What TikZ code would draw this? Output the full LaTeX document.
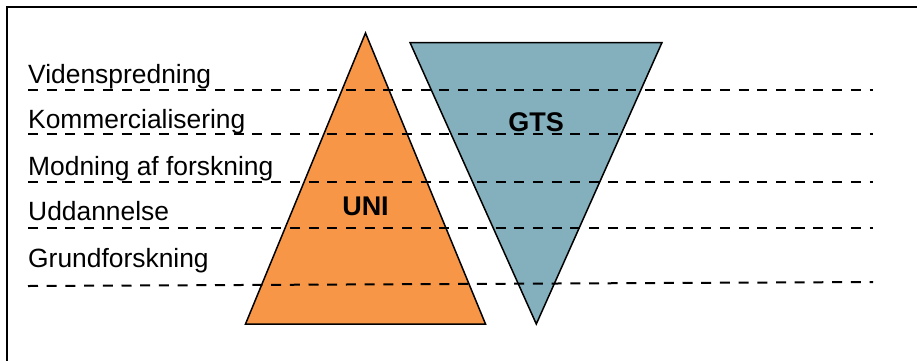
\documentclass[tikz,border=0pt]{standalone}
\usepackage{fontspec}
\setmainfont{Liberation Sans}
\definecolor{uniorange}{HTML}{F79646}
\definecolor{gtsblue}{HTML}{83B0BC}
\begin{document}
\begin{tikzpicture}[x=1pt,y=-1pt,
  level/.style={anchor=base west,inner sep=0pt,font=\fontsize{26.4}{30}\selectfont},
  tri/.style={draw=black,line width=1.5pt,line join=miter},
  tag/.style={inner sep=0pt,font=\fontsize{27}{30}\selectfont\bfseries},
  divider/.style={line width=2pt,dash pattern=on 10pt off 8.7pt}]
\useasboundingbox (0,0) rectangle (917,360);
% frame
\draw[line width=1.5pt] (7,380) -- (7,7) -- (940,7);
% triangles
\filldraw[tri,fill=uniorange] (245.5,324) -- (485.5,324) -- (365.5,33) -- cycle;
\filldraw[tri,fill=gtsblue] (410,42.5) -- (662,42.5) -- (536.3,324) -- cycle;
\node[tag] (uni) at (365.5,206) {UNI};
\node[tag] (gts) at (536,122) {GTS};
% level labels
\node[level] (l1) at (28,83) {Videnspredning};
\node[level] (l2) at (28,128) {Kommercialisering};
\node[level] (l3) at (28,175) {Modning af forskning};
\node[level] (l4) at (28,220) {Uddannelse};
\node[level] (l5) at (28,267) {Grundforskning};
% dividers
\coordinate (a1) at (28,90);   \coordinate (b1) at (873,90);
\coordinate (a2) at (28,134);  \coordinate (b2) at (873,134);
\coordinate (a3) at (28,182);  \coordinate (b3) at (873,182);
\coordinate (a4) at (28,228);  \coordinate (b4) at (873,228);
\coordinate (a5) at (28,286);  \coordinate (b5) at (873,282);
\foreach \i in {1,...,5} \draw[divider] (a\i) -- (b\i);
\end{tikzpicture}
\end{document}
